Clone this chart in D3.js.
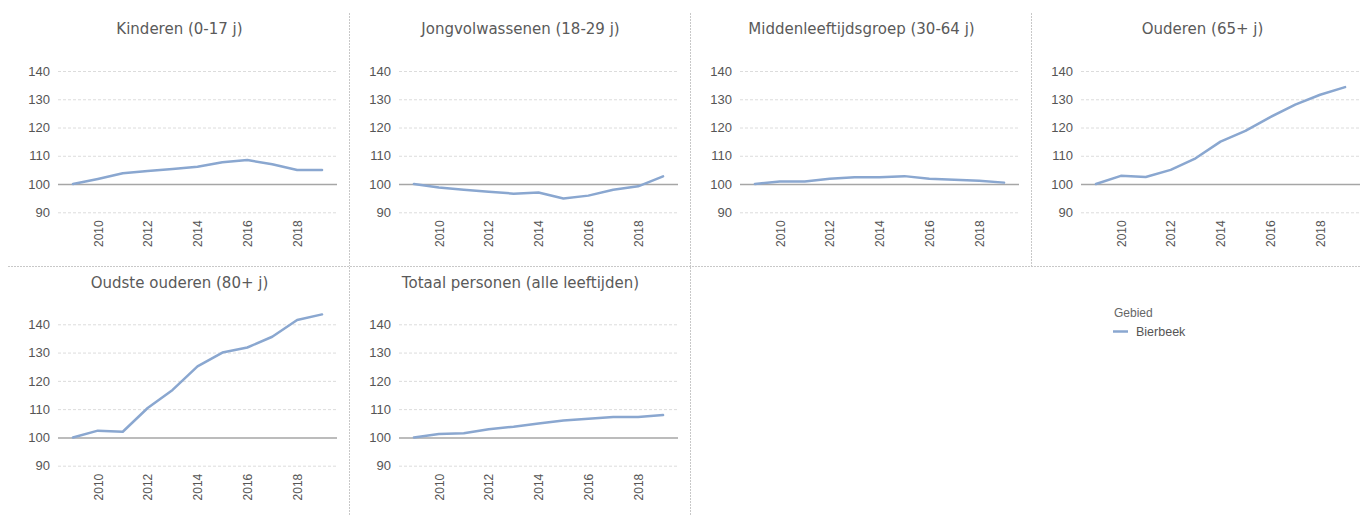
<!DOCTYPE html>
<html>
<head>
<meta charset="utf-8">
<script src="https://cdn.jsdelivr.net/npm/d3@7"></script>
<style>
  html, body { margin: 0; padding: 0; background: #fff; }
  svg { display: block; font-family: "Liberation Sans", Arial, sans-serif; }
</style>
</head>
<body>
<svg id="chart" width="1360" height="515"></svg>
<script>
// ---- data ----
const years = [2009, 2010, 2011, 2012, 2013, 2014, 2015, 2016, 2017, 2018, 2019];
const yearTicks = [2010, 2012, 2014, 2016, 2018];
const valueTicks = [90, 100, 110, 120, 130, 140];
const panelTitles = [
  "Kinderen (0-17 j)",
  "Jongvolwassenen (18-29 j)",
  "Middenleeftijdsgroep (30-64 j)",
  "Ouderen (65+ j)",
  "Oudste ouderen (80+ j)",
  "Totaal personen (alle leeftijden)"
];
const kinderen       = [100, 101.8, 103.8, 104.6, 105.3, 106.1, 107.7, 108.5, 107.0, 105.0, 105.0];
const jongvolwassenen = [100, 98.8, 98.0, 97.3, 96.6, 97.0, 94.9, 95.9, 98.0, 99.2, 102.7];
const middenleeftijd = [100, 100.9, 100.9, 101.9, 102.4, 102.4, 102.8, 101.9, 101.5, 101.2, 100.5];
const ouderen        = [100, 102.9, 102.5, 105.0, 109.1, 115.0, 118.8, 123.7, 128.1, 131.6, 134.3];
const oudsteOuderen  = [100, 102.4, 102.0, 110.4, 116.8, 125.1, 130.0, 131.8, 135.6, 141.5, 143.5];
const totaal         = [100, 101.2, 101.5, 102.9, 103.8, 104.9, 106.0, 106.6, 107.2, 107.2, 107.9];
const seriesList = [kinderen, jongvolwassenen, middenleeftijd, ouderen, oudsteOuderen, totaal];
const legendTitle = "Gebied";
const legendLabel = "Bierbeek";

// ---- layout ----
const svg = d3.select("#chart");
const lineColor = "#8aa7d0";
const panelW = 341, panelX0 = 9;
const rows = [
  { titleY: 33.5, yTop: 71, yBottom: 212.3 },
  { titleY: 287.5, yTop: 324.3, yBottom: 465.7 }
];

// separators
const sep = svg.append("g").attr("stroke", "#c8c8c8").attr("stroke-width", 1).attr("stroke-dasharray", "2,1");
sep.append("line").attr("x1", 8).attr("x2", 1360).attr("y1", 266.5).attr("y2", 266.5);
[349.5, 690.5, 1031.5].forEach(x => sep.append("line").attr("x1", x).attr("x2", x).attr("y1", 13).attr("y2", 266));
[349.5, 690.5].forEach(x => sep.append("line").attr("x1", x).attr("x2", x).attr("y1", 267).attr("y2", 515));

seriesList.forEach((vals, i) => {
  const row = i < 4 ? 0 : 1;
  const col = i < 4 ? i : i - 4;
  const r = rows[row];
  const x0 = panelX0 + col * panelW;
  const gx0 = x0 + 49, gx1 = x0 + 328;

  const x = d3.scalePoint().domain(years).range([gx0, gx1]).padding(0.6);
  const y = d3.scaleLinear().domain([90, 140]).range([r.yBottom, r.yTop]);

  const g = svg.append("g");

  // title
  g.append("text")
    .attr("x", x0 + panelW / 2).attr("y", r.titleY)
    .attr("text-anchor", "middle")
    .attr("font-family", "DejaVu Sans, Verdana, sans-serif")
    .attr("font-size", 15).attr("fill", "#5a5a5a")
    .text(panelTitles[i]);

  // grid
  const yAxis = d3.axisLeft(y).tickValues(valueTicks).tickSize(-(gx1 - gx0)).tickPadding(8);
  const ya = g.append("g").attr("transform", `translate(${gx0},0)`).call(yAxis);
  ya.select(".domain").remove();
  ya.selectAll(".tick line")
    .attr("stroke", d => d === 100 ? "#a6a6a6" : "#dcdcdc")
    .attr("stroke-width", d => d === 100 ? 1.5 : 1)
    .attr("stroke-dasharray", d => d === 100 ? null : "3,2");
  ya.selectAll(".tick text").attr("font-size", 13).attr("fill", "#555")
    .attr("font-family", "Liberation Sans, Arial, sans-serif");

  // x axis labels
  const xAxis = d3.axisBottom(x).tickValues(yearTicks).tickSize(0).tickPadding(0);
  const xa = g.append("g").attr("transform", `translate(0,${r.yBottom})`).call(xAxis);
  xa.select(".domain").remove();
  xa.selectAll(".tick text")
    .attr("font-size", 12).attr("fill", "#555")
    .attr("font-family", "Liberation Sans, Arial, sans-serif")
    .attr("transform", "rotate(-90)")
    .attr("text-anchor", "end")
    .attr("x", -8).attr("y", 0).attr("dy", "0.35em");

  // line
  const line = d3.line().x((d, k) => x(years[k])).y(d => y(d));
  g.append("path").datum(vals)
    .attr("d", line)
    .attr("fill", "none")
    .attr("stroke", lineColor)
    .attr("stroke-width", 2.5)
    .attr("stroke-linejoin", "round")
    .attr("stroke-linecap", "round");
});

// legend
const lg = svg.append("g");
lg.append("text").attr("x", 1114).attr("y", 317).attr("font-size", 12).attr("fill", "#666").text(legendTitle);
lg.append("line").attr("x1", 1113).attr("x2", 1128).attr("y1", 331.5).attr("y2", 331.5)
  .attr("stroke", lineColor).attr("stroke-width", 2.5);
lg.append("text").attr("x", 1136).attr("y", 336).attr("font-size", 12.5).attr("fill", "#555").text(legendLabel);
</script>
</body>
</html>
